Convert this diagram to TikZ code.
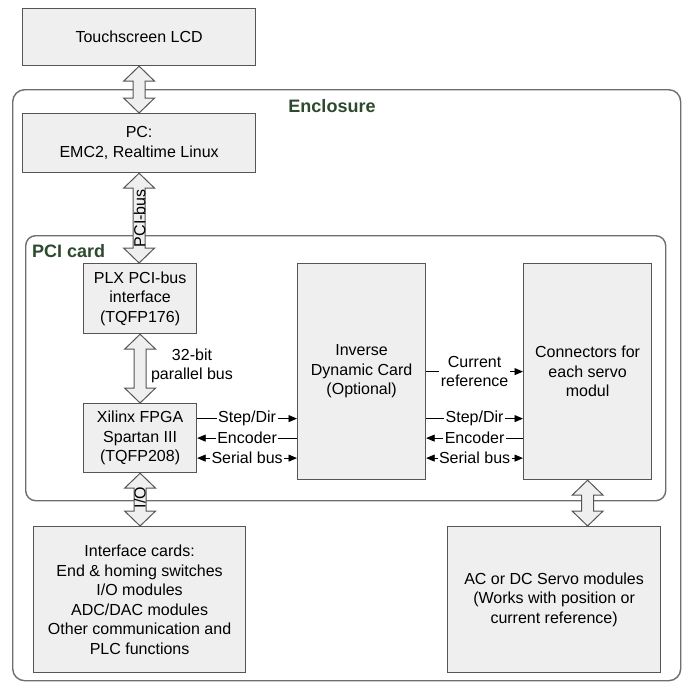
\documentclass[tikz,border=0pt]{standalone}
\usepackage{fontspec}
\setmainfont{Liberation Sans}
\usetikzlibrary{arrows.meta,calc}
\definecolor{boxfill}{HTML}{EFEFEF}
\definecolor{boxline}{HTML}{555555}
\definecolor{frameline}{HTML}{6E6E6E}
\definecolor{labelgreen}{HTML}{2E4A2E}
\newcommand\blockarrow[2]{%
  \draw[barrow] let \p1=(#1), \p2=(#2) in
    (\x1,\y1) -- (\x1+15.5pt,\y1-15pt) -- (\x1+6pt,\y1-15pt) -- (\x1+6pt,\y2+15pt)
    -- (\x1+15.5pt,\y2+15pt) -- (\x1,\y2) -- (\x1-15.5pt,\y2+15pt) -- (\x1-6pt,\y2+15pt)
    -- (\x1-6pt,\y1-15pt) -- (\x1-15.5pt,\y1-15pt) -- cycle;}
\begin{document}
\begin{tikzpicture}[x=1pt,y=-1pt,
  font=\fontsize{16}{19.5}\selectfont,
  box/.style={draw=boxline, fill=boxfill, line width=1.2pt, align=center,
    anchor=north west, inner sep=0pt},
  frame/.style={draw=frameline, line width=1.4pt, rounded corners=12pt,
    anchor=north west, inner sep=0pt},
  grouplabel/.style={font=\fontsize{18}{22}\selectfont\bfseries, text=labelgreen},
  barrow/.style={draw=boxline, fill=boxfill, line width=1pt, line join=miter},
  sig/.style={draw=black, line width=0.9pt},
  tipr/.style={-{Triangle[length=8.5pt,width=7pt]}},
  tipl/.style={{Triangle[length=8.5pt,width=7pt]}-},
  tipb/.style={{Triangle[length=8.5pt,width=7pt]}-{Triangle[length=8.5pt,width=7pt]}},
  siglabel/.style={fill=white, inner sep=1.5pt, align=center}]
\useasboundingbox (0,0) rectangle (686,686);
\fill[white] (0,0) rectangle (686,686);
% frames
\node[frame, minimum width=668pt, minimum height=591pt] (encl) at (12,89) {};
\node[frame, rounded corners=10pt, minimum width=640pt, minimum height=265pt] (pcicard) at (25,235) {};
\node[grouplabel] (enclabel) at (332,106) {Enclosure};
\node[grouplabel, anchor=west, inner sep=0pt] (pcilabel) at (32,251) {PCI card};
% boxes
\node[box, minimum width=233pt, minimum height=57pt] (lcd) at (22,8) {Touchscreen LCD};
\node[box, minimum width=233pt, minimum height=59pt] (pc) at (22,113) {PC:\\EMC2, Realtime Linux};
\node[box, minimum width=113pt, minimum height=70pt] (plx) at (83,263) {PLX PCI-bus\\interface\\(TQFP176)};
\node[box, minimum width=113pt, minimum height=69pt] (fpga) at (83,403) {Xilinx FPGA\\Spartan III\\(TQFP208)};
\node[box, minimum width=128pt, minimum height=216pt] (inv) at (297,263) {Inverse\\Dynamic Card\\(Optional)};
\node[box, minimum width=128pt, minimum height=216pt] (conn) at (523,263) {Connectors for\\each servo\\modul};
\node[box, minimum width=212pt, minimum height=146pt] (iface) at (33,526) {Interface cards:\\End \& homing switches\\I/O modules\\ADC/DAC modules\\Other communication and\\PLC functions};
\node[box, minimum width=213pt, minimum height=146pt] (servo) at (447,526) {AC or DC Servo modules\\(Works with position or\\current reference)};
% block arrows
\blockarrow{lcd.south}{pc.north}
\blockarrow{pc.south}{plx.north}
\blockarrow{plx.south}{fpga.north}
\blockarrow{fpga.south}{iface.north}
\blockarrow{conn.south}{servo.north}
\node[rotate=90, inner sep=0pt] (pcibus) at ($(pc.south)!0.5!(plx.north)$) {PCI-bus};
\node[rotate=90, inner sep=0pt] (io) at ($(fpga.south)!0.5!(iface.north)+(0,-2)$) {I/O};
\node[align=center, inner sep=0pt] (par) at (192,366) {32-bit\\parallel bus};
% signal lines
\draw[sig, tipr] ([yshift=19.5pt]fpga.east) -- ([yshift=19.5pt]fpga.east -| inv.west)
  node[siglabel, midway] (sd1) {Step/Dir};
\draw[sig, tipl] (fpga.east) -- (fpga.east -| inv.west)
  node[siglabel, midway] (en1) {Encoder};
\draw[sig, tipb] ([yshift=-20pt]fpga.east) -- ([yshift=-20pt]fpga.east -| inv.west)
  node[siglabel, midway] (sb1) {Serial bus};
\draw[sig, tipr] (inv.east) -- (conn.west)
  node[siglabel, midway] (cr) {Current\\reference};
\draw[sig, tipr] ([yshift=19.5pt]fpga.east -| inv.east) -- ([yshift=19.5pt]fpga.east -| conn.west)
  node[siglabel, midway] (sd2) {Step/Dir};
\draw[sig, tipl] (fpga.east -| inv.east) -- (fpga.east -| conn.west)
  node[siglabel, midway] (en2) {Encoder};
\draw[sig, tipb] ([yshift=-20pt]fpga.east -| inv.east) -- ([yshift=-20pt]fpga.east -| conn.west)
  node[siglabel, midway] (sb2) {Serial bus};
\end{tikzpicture}
\end{document}
